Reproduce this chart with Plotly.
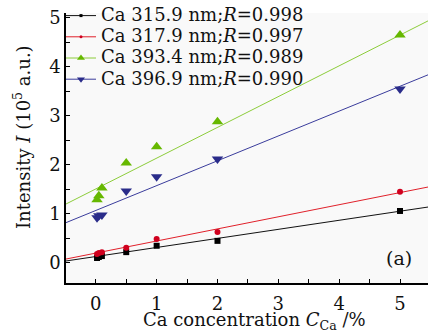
import plotly.graph_objects as go

concentration = [0.02, 0.05, 0.1, 0.5, 1, 2, 5]
ca_315 = [0.10, 0.12, 0.14, 0.22, 0.35, 0.45, 1.06]
ca_317 = [0.18, 0.20, 0.22, 0.31, 0.49, 0.63, 1.45]
ca_393 = [1.29, 1.37, 1.53, 2.04, 2.37, 2.88, 4.65]
ca_396 = [0.92, 0.96, 0.98, 1.47, 1.76, 2.12, 3.55]
series_names = ["Ca 315.9 nm;<i>R</i>=0.998", "Ca 317.9 nm;<i>R</i>=0.997",
                "Ca 393.4 nm;<i>R</i>=0.989", "Ca 396.9 nm;<i>R</i>=0.990"]
fit_slope = [0.185, 0.247, 0.628, 0.507]
fit_intercept = [0.13, 0.20, 1.51, 1.07]
x_ticks = [0, 1, 2, 3, 4, 5]
y_ticks = [0, 1, 2, 3, 4, 5]

X_RANGE = [-0.49, 5.46]
Y_RANGE = [-0.41, 5.10]

marker_colors = ["#000000", "#d0001e", "#66b800", "#2a2c8a"]
line_colors = ["#111111", "#e0202a", "#8ccc3a", "#3a3c9c"]
symbols = ["square", "circle", "triangle-up", "triangle-down"]
sizes = [6, 6, 10, 10]
values = [ca_315, ca_317, ca_393, ca_396]

FONT = "DejaVu Serif"
W, H = 428, 336
L, R, T, B = 66, 0, 13, 53
PW, PH = W - L - R, H - T - B

fig = go.Figure()
for i in range(4):
    fx = [X_RANGE[0], X_RANGE[1]]
    fy = [fit_intercept[i] + fit_slope[i] * v for v in fx]
    fig.add_trace(go.Scatter(x=fx, y=fy, mode="lines", showlegend=False,
                             line=dict(color=line_colors[i], width=1), hoverinfo="skip"))
    fig.add_trace(go.Scatter(x=concentration, y=values[i], mode="markers", showlegend=False,
                             marker=dict(symbol=symbols[i], size=sizes[i], color=marker_colors[i],
                                         line=dict(width=0))))
for i in range(4):
    fig.add_trace(go.Scatter(x=[None], y=[None], mode="lines+markers",
                             name='<span style="font-size:18px">' + series_names[i] + "</span>",
                             line=dict(color=line_colors[i], width=1),
                             marker=dict(symbol=symbols[i], size=sizes[i] - 3, color=marker_colors[i])))

axis_common = dict(showgrid=False, zeroline=False, showline=True, linecolor="#000000",
                   linewidth=1.5, ticks="inside", ticklen=4, tickwidth=1, tickcolor="#000000",
                   automargin=False,
                   tickfont=dict(family=FONT, size=18, color="#111111"),
                   minor=dict(ticks="inside", ticklen=4, tickwidth=1, tickcolor="#000000", dtick=0.5))

fig.update_xaxes(range=X_RANGE, tickvals=x_ticks, ticktext=[str(t) for t in x_ticks],
                 ticklabelstandoff=4, **axis_common)
fig.update_yaxes(range=Y_RANGE, tickvals=y_ticks, ticktext=[str(t) for t in y_ticks],
                 **axis_common)

fig.add_annotation(text="Intensity <i>I</i> (10<sup>5</sup> a.u.)", textangle=-90,
                   xref="paper", yref="paper", x=(22 - L) / PW, y=(H - B - 137) / PH,
                   showarrow=False, xanchor="center", yanchor="middle",
                   font=dict(family=FONT, size=18, color="#111111"))
fig.add_annotation(text="Ca concentration <i>C</i><sub>Ca</sub> /%",
                   xref="paper", yref="paper", x=(254 - L) / PW, y=(H - B - 321) / PH,
                   showarrow=False, xanchor="center", yanchor="middle",
                   font=dict(family=FONT, size=18, color="#111111"))
fig.add_annotation(text="(a)", xref="x", yref="y", x=4.98, y=0.10, showarrow=False,
                   font=dict(family=FONT, size=19, color="#111111"))

fig.update_layout(
    width=W, height=H,
    margin=dict(l=L, r=R, t=T, b=B, autoexpand=False),
    paper_bgcolor="#ffffff", plot_bgcolor="#f9f9f9",
    showlegend=True,
    legend=dict(xref="container", yref="container", x=61 / W, y=1.0,
                xanchor="left", yanchor="top", bgcolor="rgba(255,255,255,0)",
                font=dict(family=FONT, size=14, color="#111111"),
                itemwidth=30, tracegroupgap=0),
)

fig.write_html("out.html", config={"displayModeBar": False},
               post_script="document.body.style.margin='0';")
